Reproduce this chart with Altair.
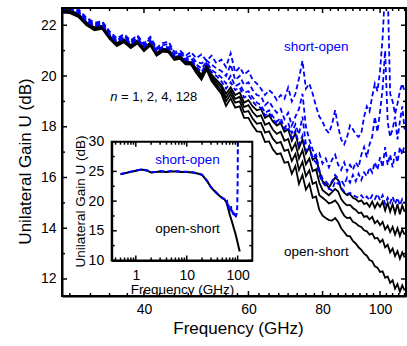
import altair as alt
import pandas as pd

FONT = "Liberation Sans"
BLUE = "#0000ff"
W, H = 344, 288

# ---------------- main panel data ----------------
freq = list(range(29, 111))

open_short_1 = [22.62, 22.60, 22.45, 22.12, 21.92, 21.98, 21.58, 21.30, 21.45, 21.22, 21.40, 21.10, 21.32, 20.92, 21.08, 21.05, 20.75, 20.80, 20.58,
                20.55, 20.30, 20.05, 20.45, 20.05, 19.85, 19.65, 19.30, 19.55, 19.25, 19.35, 18.95, 19.05, 18.80, 18.65, 18.70, 18.35, 18.45, 18.20, 18.05,
                18.15, 17.80, 17.90, 17.45, 17.75, 17.15, 17.50, 16.95, 17.20, 16.70, 16.80, 16.25, 15.85, 15.75, 15.60, 15.80, 16.00, 15.90, 15.55, 15.40,
                15.30, 15.35, 15.20, 15.15, 15.05, 15.10, 14.95, 15.00, 14.85, 15.05, 14.80, 15.00, 14.85, 15.05, 14.70, 15.00, 14.65, 14.95, 14.60, 14.95,
                14.55, 14.90, 14.65]
open_short_2 = [22.58, 22.56, 22.41, 22.08, 21.88, 21.94, 21.54, 21.26, 21.41, 21.18, 21.36, 21.06, 21.28, 20.88, 21.04, 21.01, 20.71, 20.76, 20.54,
                20.52, 20.25, 20.00, 20.40, 19.98, 19.75, 19.55, 19.15, 19.42, 19.10, 19.18, 18.78, 18.85, 18.58, 18.40, 18.45, 18.08, 18.15, 17.88, 17.72,
                17.80, 17.45, 17.52, 17.08, 17.35, 16.75, 17.08, 16.52, 16.75, 16.25, 16.32, 15.80, 15.50, 15.40, 15.30, 15.42, 15.55, 15.45, 15.15, 15.00,
                14.90, 14.92, 14.80, 14.72, 14.60, 14.62, 14.45, 14.48, 14.35, 14.45, 14.20, 14.30, 14.12, 14.25, 13.95, 14.10, 13.85, 14.05, 13.75, 14.00,
                13.70, 13.95, 13.75]
open_short_4 = [22.54, 22.52, 22.37, 22.04, 21.84, 21.90, 21.50, 21.22, 21.37, 21.14, 21.32, 21.02, 21.24, 20.84, 21.00, 20.97, 20.67, 20.72, 20.50,
                20.48, 20.20, 19.93, 20.33, 19.90, 19.65, 19.42, 19.00, 19.28, 18.95, 19.00, 18.58, 18.62, 18.32, 18.12, 18.15, 17.77, 17.82, 17.52, 17.35,
                17.40, 17.05, 17.10, 16.65, 16.92, 16.30, 16.62, 16.05, 16.28, 15.75, 15.82, 15.30, 15.20, 15.10, 14.98, 15.02, 15.10, 14.95, 14.70, 14.50,
                14.40, 14.42, 14.25, 14.20, 14.10, 14.05, 13.92, 13.88, 13.75, 13.80, 13.60, 13.62, 13.45, 13.55, 13.25, 13.35, 13.05, 13.20, 12.90, 13.10,
                12.80, 13.05, 12.85]
open_short_128 = [22.50, 22.48, 22.33, 22.00, 21.80, 21.86, 21.46, 21.18, 21.33, 21.10, 21.28, 20.98, 21.20, 20.80, 20.96, 20.93, 20.63, 20.68, 20.46,
                  20.45, 20.12, 19.85, 20.25, 19.80, 19.55, 19.30, 18.82, 19.12, 18.75, 18.80, 18.35, 18.35, 18.05, 17.82, 17.80, 17.40, 17.42, 17.10, 16.92,
                  16.95, 16.58, 16.62, 16.15, 16.45, 15.75, 16.10, 15.52, 15.75, 15.20, 15.25, 14.72, 14.50, 14.40, 14.32, 14.30, 14.40, 14.25, 14.00, 13.85,
                  13.70, 13.68, 13.50, 13.40, 13.25, 13.15, 13.00, 12.92, 12.75, 12.70, 12.50, 12.45, 12.28, 12.30, 12.05, 12.10, 11.85, 11.95, 11.62, 11.80,
                  11.50, 11.75, 11.55]

short_open_1 = [22.80, 22.78, 22.63, 22.30, 22.10, 22.16, 21.76, 21.48, 21.65, 21.40, 21.60, 21.28, 21.55, 21.10, 21.30, 21.35, 20.95, 21.00, 20.80,
                20.95, 20.70, 20.85, 20.60, 20.80, 20.50, 20.65, 20.35, 20.90, 20.15, 20.35, 20.05, 20.20, 19.85, 19.70, 19.50, 19.25, 19.45, 19.30, 19.05,
                19.25, 19.10, 19.55, 19.00, 19.30, 19.90, 20.60, 19.50, 19.70, 19.30, 18.80, 18.40, 18.20, 17.90, 17.75, 18.10, 18.65, 18.00, 17.50, 17.30,
                17.60, 18.05, 17.90, 17.70, 17.60, 17.75, 18.40, 18.80, 18.60, 19.20, 19.70, 19.40, 20.20, 21.50, 23.50, 23.50, 19.30, 19.00, 18.50, 18.90,
                19.40, 19.70, 19.40]
short_open_2 = [22.74, 22.72, 22.57, 22.24, 22.04, 22.12, 21.70, 21.42, 21.58, 21.34, 21.55, 21.22, 21.48, 21.04, 21.22, 21.25, 20.87, 20.94, 20.72,
                20.80, 20.55, 20.50, 20.62, 20.45, 20.30, 20.20, 20.00, 20.45, 19.85, 20.00, 19.65, 19.75, 19.45, 19.25, 19.20, 18.85, 19.00, 18.75, 18.55,
                18.70, 18.30, 18.55, 18.05, 18.40, 18.70, 19.30, 18.00, 17.50, 17.10, 16.80, 16.95, 16.55, 16.75, 16.40, 16.70, 16.90, 16.50, 16.30, 16.60,
                16.25, 16.50, 16.30, 16.60, 16.40, 16.90, 17.20, 16.80, 17.30, 17.60, 18.40, 17.80, 18.60, 19.50, 21.00, 18.20, 17.60, 17.90, 18.40, 17.50,
                18.20, 18.80, 17.90]
short_open_4 = [22.70, 22.68, 22.53, 22.20, 22.00, 22.06, 21.66, 21.38, 21.53, 21.30, 21.48, 21.18, 21.40, 21.00, 21.16, 21.13, 20.83, 20.88, 20.66,
                20.70, 20.45, 20.30, 20.55, 20.25, 20.10, 19.95, 19.70, 20.00, 19.60, 19.70, 19.35, 19.40, 19.15, 18.95, 18.85, 18.55, 18.65, 18.40, 18.20,
                18.35, 17.95, 18.15, 17.75, 18.10, 17.70, 18.40, 17.30, 17.20, 16.70, 16.60, 16.10, 15.80, 15.65, 15.55, 15.50, 15.85, 15.75, 15.90, 15.70,
                16.00, 15.80, 16.10, 15.85, 16.15, 15.90, 16.20, 16.05, 16.40, 16.20, 16.60, 16.30, 16.80, 16.40, 17.20, 16.50, 16.90, 16.40, 17.00, 16.60,
                17.20, 16.90, 17.30]
short_open_128 = [22.66, 22.64, 22.49, 22.16, 21.96, 22.02, 21.62, 21.34, 21.49, 21.26, 21.44, 21.14, 21.36, 20.96, 21.12, 21.09, 20.79, 20.84, 20.62,
                  20.62, 20.38, 20.15, 20.50, 20.15, 20.00, 19.80, 19.50, 19.75, 19.45, 19.55, 19.15, 19.25, 19.00, 18.80, 18.75, 18.45, 18.55, 18.30, 18.10,
                  18.20, 17.90, 18.00, 17.55, 17.85, 17.30, 17.65, 17.05, 17.25, 16.75, 16.90, 16.30, 15.95, 15.85, 15.70, 15.85, 16.10, 15.95, 15.60, 15.45,
                  15.35, 15.40, 15.30, 15.25, 15.20, 15.30, 15.15, 15.25, 15.10, 15.30, 15.15, 15.35, 15.10, 15.30, 14.95, 15.20, 15.00, 15.25, 14.95, 15.20,
                  14.90, 15.15, 15.00]

# ---------------- inset data ----------------
inset_freq_os = [0.5, 0.7, 1.0, 1.3, 1.7, 2.0, 2.5, 3.0, 4.0, 5.0, 6.0, 8.0, 10, 13, 17, 20, 25, 30, 35, 40, 45, 50, 55,
                 60, 65, 70, 75, 80, 85, 90, 95, 100, 105, 110]
inset_open_short = [24.5, 24.8, 25.1, 25.3, 25.1, 24.8, 24.9, 25.0, 24.9, 25.0, 25.0, 24.9, 24.9, 24.8, 24.6, 24.4, 23.4, 22.3, 21.7, 21.2, 20.8, 20.5, 20.3,
                    19.8, 18.8, 17.7, 16.9, 16.1, 15.3, 14.6, 13.8, 13.0, 12.2, 11.5]
inset_freq_so = [0.5, 0.7, 1.0, 1.3, 1.7, 2.0, 2.5, 3.0, 4.0, 5.0, 6.0, 8.0, 10, 13, 17, 20, 25, 30, 35, 40, 45, 50, 55,
                 58, 60, 62, 64, 66, 68, 70, 72, 74, 76, 78, 80, 82, 84, 86, 88, 90, 92, 94, 96, 98, 100, 101]
inset_short_open = [24.55, 24.85, 25.15, 25.35, 25.15, 24.85, 24.95, 25.05, 24.95, 25.05, 25.05, 24.95, 24.95, 24.85, 24.65, 24.45, 23.45, 22.35,
                    21.75, 21.25, 20.85, 20.55, 20.35,
                    20.1, 19.9, 20.0, 19.2, 19.5, 18.7, 19.0, 18.3, 19.2, 18.0, 18.5, 17.6, 18.2, 17.5, 18.0, 17.4, 17.6, 17.3, 17.7, 17.9, 18.9,
                    23.0, 30.0]

# axis domains, tick / label values
main_x_domain = [29.1, 110.6]
main_y_domain = [11.33, 22.68]
inset_x_domain = [0.336, 194]
inset_y_domain = [10, 30]
main_x_labels = [40, 60, 80, 100]
main_x_minor = [30, 32.5, 35, 37.5, 42.5, 45, 47.5, 50, 52.5, 55, 57.5, 62.5, 65, 67.5, 70, 72.5, 75, 77.5,
                82.5, 85, 87.5, 90, 92.5, 95, 97.5, 102.5, 105, 107.5, 110]
main_y_labels = [12, 14, 16, 18, 20, 22]
main_y_minor = [13, 15, 17, 19, 21]
inset_x_labels = [1, 10, 100]
inset_x_minor = [0.4, 0.5, 0.6, 0.7, 0.8, 0.9, 2, 3, 4, 5, 6, 7, 8, 9, 20, 30, 40, 50, 60, 70, 80, 90]
inset_y_labels = [10, 15, 20, 25, 30]
inset_y_minor = [12.5, 17.5, 22.5, 27.5]

# ---------------- tables ----------------
series = [("open-short n=1", "open", open_short_1), ("open-short n=2", "open", open_short_2),
          ("open-short n=4", "open", open_short_4), ("open-short n=128", "open", open_short_128),
          ("short-open n=1", "short", short_open_1), ("short-open n=2", "short", short_open_2),
          ("short-open n=4", "short", short_open_4), ("short-open n=128", "short", short_open_128)]
rows = []
for name, kind, vals in series:
    assert len(vals) == len(freq), name
    for f, v in zip(freq, vals):
        rows.append({"f": f, "U": v, "series": name, "kind": kind})
df_main = pd.DataFrame(rows)

assert len(inset_freq_os) == len(inset_open_short)
assert len(inset_freq_so) == len(inset_short_open)
df_in_os = pd.DataFrame({"f": inset_freq_os, "U": inset_open_short})
df_in_so = pd.DataFrame({"f": inset_freq_so, "U": inset_short_open})

df_main_txt = pd.DataFrame([
    {"f": 78.1, "U": 21.16, "label": "short-open", "color": BLUE},
    {"f": 78.1, "U": 13.07, "label": "open-short", "color": "black"},
])
df_n = pd.DataFrame([{"f": 35.1, "U": 19.18, "label": "n"}])
df_eq = pd.DataFrame([{"f": 36.6, "U": 19.18, "label": "= 1, 2, 4, 128"}])
df_in_txt = pd.DataFrame([
    {"f": 10.4, "U": 27.0, "label": "short-open", "color": BLUE},
    {"f": 10.4, "U": 15.24, "label": "open-short", "color": "black"},
])
df_main_frame = pd.DataFrame({"f": [main_x_domain[0]], "f2": [main_x_domain[1]],
                              "U": [main_y_domain[0]], "U2": [main_y_domain[1]]})
df_in_frame = pd.DataFrame({"f": [inset_x_domain[0]], "f2": [inset_x_domain[1]],
                            "U": [inset_y_domain[0]], "U2": [inset_y_domain[1]]})

# ---------------- scales ----------------
IN_L, IN_R, IN_T, IN_B = 49.7, 190.3, 133.7, 252.5


def xs_main():
    return alt.Scale(type="log", domain=main_x_domain, range=[0, W], nice=False)


def ys_main():
    return alt.Scale(domain=main_y_domain, range=[H, 0], nice=False, zero=False)


def xs_in():
    return alt.Scale(type="log", domain=inset_x_domain, range=[IN_L, IN_R], nice=False)


def ys_in():
    return alt.Scale(domain=inset_y_domain, range=[IN_B, IN_T], nice=False, zero=False)


MAJ, MIN = 5, 3


def xtick_layer(values, xs, edge, length):
    # ticks at the data values (through the x scale), pointing inward from a horizontal edge
    return alt.Chart(pd.DataFrame({"t": values})).mark_rule(color="black", strokeWidth=1.5).encode(
        x=alt.X("t:Q", scale=xs, axis=None), y=alt.value(edge), y2=alt.value(edge + length))


def ytick_layer(values, ys, edge, length):
    return alt.Chart(pd.DataFrame({"t": values})).mark_rule(color="black", strokeWidth=1.5).encode(
        y=alt.Y("t:Q", scale=ys, axis=None), x=alt.value(edge), x2=alt.value(edge + length))


tick_layers = [
    # main panel
    xtick_layer(main_x_labels, xs_main(), H, -MAJ), xtick_layer(main_x_minor, xs_main(), H, -MIN),
    xtick_layer(main_x_labels, xs_main(), 0, MAJ), xtick_layer(main_x_minor, xs_main(), 0, MIN),
    ytick_layer(main_y_labels, ys_main(), 0, MAJ), ytick_layer(main_y_minor, ys_main(), 0, MIN),
    ytick_layer(main_y_labels, ys_main(), W, -MAJ), ytick_layer(main_y_minor, ys_main(), W, -MIN),
    # inset
    xtick_layer(inset_x_labels, xs_in(), IN_B, -MAJ), xtick_layer(inset_x_minor, xs_in(), IN_B, -MIN),
    xtick_layer(inset_x_labels, xs_in(), IN_T, MAJ), xtick_layer(inset_x_minor, xs_in(), IN_T, MIN),
    ytick_layer(inset_y_labels, ys_in(), IN_L, MAJ), ytick_layer(inset_y_minor, ys_in(), IN_L, MIN),
    ytick_layer(inset_y_labels, ys_in(), IN_R, -MAJ), ytick_layer(inset_y_minor, ys_in(), IN_R, -MIN),
]

# ---------------- main panel ----------------
ax_main_x = alt.Axis(orient="bottom", values=main_x_labels, format="d", ticks=False, domain=True,
                     labelFontSize=14, labelPadding=6, title="Frequency (GHz)", titleFontSize=17,
                     titlePadding=4, titleX=176)
ax_main_y = alt.Axis(orient="left", values=main_y_labels, format="d", ticks=False, domain=True,
                     labelFontSize=14, labelPadding=6, title="Unilateral Gain U (dB)", titleFontSize=17,
                     titlePadding=6, titleY=153)


def mx(axis):
    return alt.X("f:Q", scale=xs_main(), axis=axis)


def my(axis):
    return alt.Y("U:Q", scale=ys_main(), axis=axis)


black_lines = alt.Chart(df_main).transform_filter("datum.kind == 'open'").mark_line(
    clip=True, color="black", strokeWidth=1.8).encode(x=mx(ax_main_x), y=my(ax_main_y), detail="series:N")
blue_lines = alt.Chart(df_main).transform_filter("datum.kind == 'short'").mark_line(
    clip=True, color=BLUE, strokeWidth=1.8, strokeDash=[5, 3]).encode(x=mx(None), y=my(None), detail="series:N")
main_txt = alt.Chart(df_main_txt).mark_text(font=FONT, fontSize=13.5, align="center", baseline="middle").encode(
    x=mx(None), y=my(None), text="label:N", color=alt.Color("color:N", scale=None))
n_txt = alt.Chart(df_n).mark_text(font=FONT, fontSize=13, fontStyle="italic", align="left",
                                  baseline="middle", color="black").encode(x=mx(None), y=my(None), text="label:N")
eq_txt = alt.Chart(df_eq).mark_text(font=FONT, fontSize=13, align="left", baseline="middle",
                                    color="black").encode(x=mx(None), y=my(None), text="label:N")
main_frame = alt.Chart(df_main_frame).mark_rect(fillOpacity=0, stroke="black", strokeWidth=2).encode(
    x=mx(None), x2="f2:Q", y=my(None), y2="U2:Q")

# ---------------- inset ----------------
ax_in_x = alt.Axis(orient="bottom", offset=IN_B - H, values=inset_x_labels, format="d", ticks=False,
                   domain=True, labelFontSize=14, labelPadding=8, title="Frequency (GHz)",
                   titleFontSize=13.5, titlePadding=0)
ax_in_y = alt.Axis(orient="left", offset=-IN_L, values=inset_y_labels, format="d", ticks=False,
                   domain=True, labelFontSize=14, labelPadding=8, title="Unilateral Gain U (dB)",
                   titleFontSize=13.5, titlePadding=1)

in_black = alt.Chart(df_in_os).mark_line(color="black", strokeWidth=2).encode(
    x=alt.X("f:Q", scale=xs_in(), axis=ax_in_x), y=alt.Y("U:Q", scale=ys_in(), axis=ax_in_y))
in_blue = alt.Chart(df_in_so).mark_line(color=BLUE, strokeWidth=2, strokeDash=[5, 3]).encode(
    x=alt.X("f:Q", scale=xs_in(), axis=None), y=alt.Y("U:Q", scale=ys_in(), axis=None))
in_txt = alt.Chart(df_in_txt).mark_text(font=FONT, fontSize=13.5, align="center", baseline="middle").encode(
    x=alt.X("f:Q", scale=xs_in(), axis=None), y=alt.Y("U:Q", scale=ys_in(), axis=None),
    text="label:N", color=alt.Color("color:N", scale=None))
in_frame = alt.Chart(df_in_frame).mark_rect(fillOpacity=0, stroke="black", strokeWidth=2).encode(
    x=alt.X("f:Q", scale=xs_in(), axis=None), x2="f2:Q",
    y=alt.Y("U:Q", scale=ys_in(), axis=None), y2="U2:Q")

chart = alt.layer(black_lines, blue_lines, main_txt, n_txt, eq_txt, main_frame,
                  in_black, in_blue, in_txt, in_frame, *tick_layers).resolve_scale(
    x="independent", y="independent").resolve_axis(x="independent", y="independent").properties(
    width=W, height=H,
    padding={"left": 62, "top": 8, "right": 1, "bottom": 50},
    autosize=alt.AutoSizeParams(type="none"),
).configure_view(strokeOpacity=0).configure_axis(
    labelFont=FONT, titleFont=FONT, labelColor="black", titleColor="black", tickColor="black",
    domainColor="black", domainWidth=2, tickWidth=1.5, titleFontWeight="normal", labelOverlap=False,
    labelFlush=False, grid=False)

chart.save("out.html", embed_options={"renderer": "svg", "actions": False})
